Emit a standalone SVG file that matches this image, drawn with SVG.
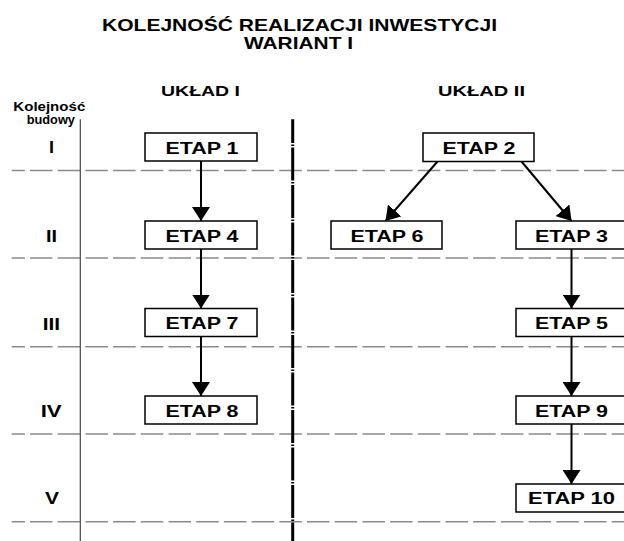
<svg xmlns="http://www.w3.org/2000/svg" width="624" height="541" viewBox="0 0 624 541">
<style>
text{font-family:"Liberation Sans",Arial,sans-serif;font-weight:bold;fill:#000}
.t{font-size:16.5px}
.h{font-size:14px}
.n{font-size:16px;text-anchor:middle}
.r{font-size:16px;text-anchor:middle}
.k{font-size:12.5px}
.box{fill:#fff;stroke:#000;stroke-width:1.5}
.grid{stroke:#8a8a8a;stroke-width:1.5;stroke-dasharray:22.5 5.2;stroke-dashoffset:9.4}
.con{stroke:#000;stroke-width:2;fill:none;marker-end:url(#ah)}
</style>
<defs>
<marker id="ah" markerUnits="userSpaceOnUse" markerWidth="14" markerHeight="18" viewBox="0 0 14 18" refX="14" refY="9" orient="auto">
<path d="M0,0 L14,9 L0,18 Z" fill="#000"/>
</marker>
</defs>
<rect width="624" height="541" fill="#fff"/>
<g id="title">
<text class="t" x="102" y="30.5" textLength="395" lengthAdjust="spacingAndGlyphs">KOLEJNOŚĆ REALIZACJI INWESTYCJI</text>
<text class="t" x="244" y="49" textLength="109" lengthAdjust="spacingAndGlyphs">WARIANT I</text>
</g>
<g id="headers">
<text class="h" x="161" y="95.7" textLength="79" lengthAdjust="spacingAndGlyphs">UKŁAD I</text>
<text class="h" x="438" y="95.7" textLength="87" lengthAdjust="spacingAndGlyphs">UKŁAD II</text>
<text class="k" x="13.3" y="111" textLength="72" lengthAdjust="spacingAndGlyphs">Kolejność</text>
<text class="k" x="26.7" y="123.5" textLength="48.3" lengthAdjust="spacingAndGlyphs">budowy</text>
</g>
<g id="grid">
<line class="grid" x1="11.7" y1="170.5" x2="624" y2="170.5"/>
<line class="grid" x1="11.7" y1="258" x2="624" y2="258"/>
<line class="grid" x1="11.7" y1="346.7" x2="624" y2="346.7"/>
<line class="grid" x1="11.7" y1="434" x2="624" y2="434"/>
<line class="grid" x1="11.7" y1="521.7" x2="624" y2="521.7"/>
<line x1="80.3" y1="119.3" x2="80.3" y2="541" stroke="#444" stroke-width="1.2"/>
<line x1="292.7" y1="119.3" x2="292.7" y2="541" stroke="#000" stroke-width="3" stroke-dasharray="33 1.5 1.5 1.5" stroke-dashoffset="9.3"/>
</g>
<g id="rows">
<text class="r" x="51.5" y="153.3" textLength="5" lengthAdjust="spacingAndGlyphs">I</text>
<text class="r" x="51.5" y="241.7" textLength="11" lengthAdjust="spacingAndGlyphs">II</text>
<text class="r" x="51.3" y="330" textLength="17.3" lengthAdjust="spacingAndGlyphs">III</text>
<text class="r" x="51.2" y="416.7" textLength="21" lengthAdjust="spacingAndGlyphs">IV</text>
<text class="r" x="52" y="503.5" textLength="14" lengthAdjust="spacingAndGlyphs">V</text>
</g>
<g id="connectors">
<line class="con" x1="201" y1="160.5" x2="201" y2="221"/>
<line class="con" x1="201" y1="249" x2="201" y2="308.5"/>
<line class="con" x1="201" y1="336.5" x2="201" y2="396"/>
<line class="con" x1="437.5" y1="161.5" x2="385.5" y2="221"/>
<line class="con" x1="521.5" y1="161.5" x2="571.5" y2="221"/>
<line class="con" x1="571.5" y1="249" x2="571.5" y2="308.5"/>
<line class="con" x1="571.5" y1="336.5" x2="571.5" y2="396"/>
<line class="con" x1="571.5" y1="424" x2="571.5" y2="484"/>
</g>
<g id="etap1"><rect class="box" x="145" y="133" width="112" height="28"/><text class="n" x="202" y="153.5" textLength="73" lengthAdjust="spacingAndGlyphs">ETAP 1</text></g>
<g id="etap4"><rect class="box" x="145" y="221" width="112" height="28"/><text class="n" x="202" y="241.7" textLength="73" lengthAdjust="spacingAndGlyphs">ETAP 4</text></g>
<g id="etap7"><rect class="box" x="145" y="308.5" width="112" height="28"/><text class="n" x="202" y="329" textLength="73" lengthAdjust="spacingAndGlyphs">ETAP 7</text></g>
<g id="etap8"><rect class="box" x="145" y="396" width="112" height="28"/><text class="n" x="202" y="416.7" textLength="73" lengthAdjust="spacingAndGlyphs">ETAP 8</text></g>
<g id="etap2"><rect class="box" x="423" y="133" width="111" height="28.5"/><text class="n" x="479" y="153.5" textLength="73" lengthAdjust="spacingAndGlyphs">ETAP 2</text></g>
<g id="etap6"><rect class="box" x="331" y="221" width="111" height="28"/><text class="n" x="387" y="241.7" textLength="73" lengthAdjust="spacingAndGlyphs">ETAP 6</text></g>
<g id="etap3"><rect class="box" x="516" y="221" width="112" height="28"/><text class="n" x="571.5" y="241.7" textLength="73" lengthAdjust="spacingAndGlyphs">ETAP 3</text></g>
<g id="etap5"><rect class="box" x="516" y="308.5" width="112" height="28"/><text class="n" x="571.5" y="329" textLength="73" lengthAdjust="spacingAndGlyphs">ETAP 5</text></g>
<g id="etap9"><rect class="box" x="516" y="396" width="112" height="28"/><text class="n" x="571.5" y="416.7" textLength="73" lengthAdjust="spacingAndGlyphs">ETAP 9</text></g>
<g id="etap10"><rect class="box" x="516" y="484" width="112" height="28"/><text class="n" x="571.5" y="504.3" textLength="87" lengthAdjust="spacingAndGlyphs">ETAP 10</text></g>
</svg>
